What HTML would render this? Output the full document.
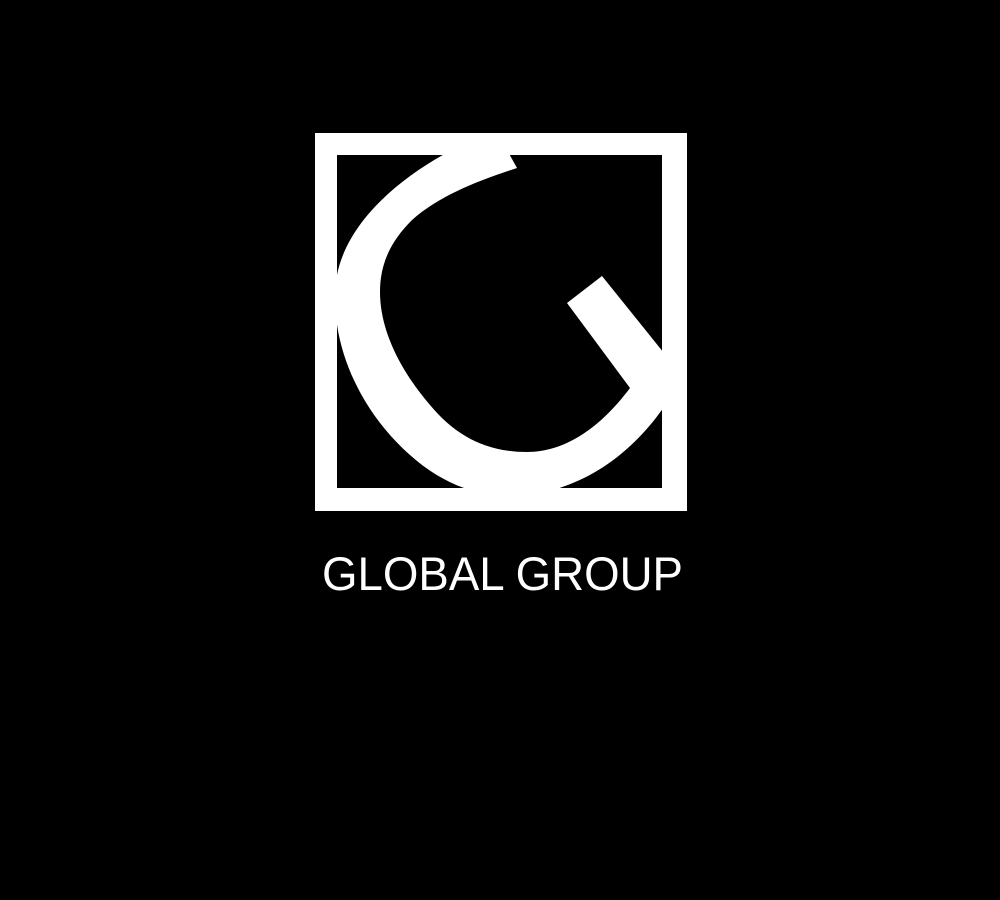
<!DOCTYPE html>
<html><head><meta charset="utf-8"><style>
html,body{margin:0;padding:0;background:#000;width:1000px;height:900px;overflow:hidden}
</style></head><body>
<svg width="1000" height="900" viewBox="0 0 1000 900" xmlns="http://www.w3.org/2000/svg">
<rect x="0" y="0" width="1000" height="900" fill="#000"/>
<defs><clipPath id="inner"><rect x="337" y="155" width="325" height="333"/></clipPath></defs>
<path fill="#fff" fill-rule="evenodd" d="M315,133 H687 V511 H315 Z M337,155 V488 H662 V155 Z"/>
<path clip-path="url(#inner)" fill="#fff"
 d="M 452,150 C 395,180 337,230 335,292 C 333,360 370,420 410,455 C 440,482 475,497 515,496 C 565,494 625,468 670,398 L 676,368 L 602,276 L 567,303 L 630,388 C 600,428 565,452 527,452 C 485,452 455,435 430,405 C 400,370 380,330 380,292 C 380,262 392,240 412,220 C 440,195 480,180 517,168 L 507,150 Z"/>
<text x="322" y="590" textLength="361" lengthAdjust="spacingAndGlyphs" font-family="'Liberation Sans', sans-serif" font-size="47" fill="#fff">GLOBAL GROUP</text>
</svg>
</body></html>
